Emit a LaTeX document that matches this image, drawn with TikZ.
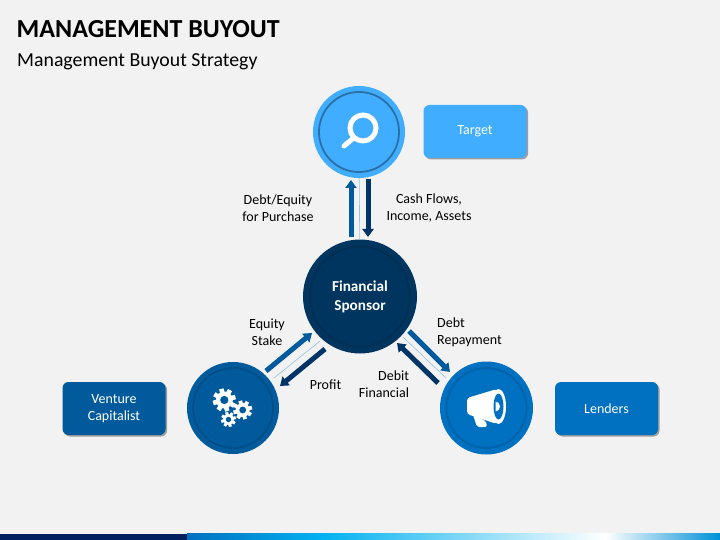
\documentclass[tikz,border=0pt]{standalone}
\usepackage{fontspec}
\setmainfont{Carlito}
\usetikzlibrary{arrows.meta,shadows}

\definecolor{pagegray}{HTML}{F2F2F2}
\definecolor{skyblue}{HTML}{41ADFF}
\definecolor{midblue}{HTML}{0070C0}
\definecolor{deepblue}{HTML}{005A9C}
\definecolor{navyblue}{HTML}{00355F}
\definecolor{arrowdark}{HTML}{003366}
\definecolor{thinblue}{HTML}{8FC3E8}
\definecolor{footnavy}{HTML}{002060}
\definecolor{footcyan}{HTML}{00B0F0}
\definecolor{footend}{HTML}{0090D8}

\tikzset{
  hub/.style={circle,inner sep=0pt,text=white,align=center,font=\fontsize{15.2}{19}\selectfont\bfseries},
  tagbox/.style={rounded corners=6pt,minimum width=103pt,minimum height=53pt,inner sep=0pt,
    text=white,align=center,font=\fontsize{14}{17}\selectfont,
    drop shadow={shadow xshift=1.5pt,shadow yshift=-1.5pt,fill=black,opacity=.35}},
  lbl/.style={align=center,inner sep=0pt,font=\fontsize{14}{17}\selectfont},
  flow/.style={line width=5pt,-{Triangle[width=11pt,length=8pt]}},
  divider/.style={line width=.6pt,thinblue},
  ring/.style={line width=1.8pt}
}

% one gear: centre, radius, colour of the hole
\newcommand{\gearicon}[4]{
  \fill[white] (#1,#2) circle (#3*.74);
  \foreach \a in {0,45,...,315}
    \fill[white,rotate around={\a+15:(#1,#2)}] (#1-#3*.2,#2-#3) rectangle (#1+#3*.2,#2-#3*.6);
  \fill[#4] (#1,#2) circle (#3*.36);
}

\begin{document}
\begin{tikzpicture}[x=1pt,y=-1pt]
\useasboundingbox (0,0) rectangle (720,540);
\fill[pagegray] (0,0) rectangle (720,540);

% footer band
\fill[white] (187,532.5) rectangle (400,533.5);
\fill[footnavy] (0,533.5) rectangle (187,540);
\shade[left color=midblue,right color=footcyan] (187,533.5) rectangle (320,540);
\shade[left color=footcyan,right color=white] (320,533.5) rectangle (605,540);
\shade[left color=white,right color=footend] (605,533.5) rectangle (720,540);

% heading
\node[anchor=base west,inner sep=0pt,font=\fontsize{26}{30}\selectfont\bfseries] (title) at (16.5,37.5) {MANAGEMENT BUYOUT};
\node[anchor=base west,inner sep=0pt,font=\fontsize{19.8}{24}\selectfont] (subtitle) at (17,66.5) {Management Buyout Strategy};

% circles
\node[hub,fill=skyblue,minimum size=92pt] (target) at (359,132) {};
\node[hub,fill=navyblue,minimum size=114pt] (sponsor) at (360,296.5) {Financial\\Sponsor};
\node[hub,fill=deepblue,minimum size=92pt] (capital) at (233,408) {};
\node[hub,fill=midblue,minimum size=93pt] (lender) at (486.5,408) {};
\draw[ring,black!35!skyblue] (target.center) circle (40);
\draw[ring,black!12!navyblue] (sponsor.center) circle (50);
\draw[ring,black!12!deepblue] (capital.center) circle (40);
\draw[ring,black!12!midblue] (lender.center) circle (40);

% boxes
\node[tagbox,fill=skyblue,text height=10pt,text depth=3pt] (targetbox) at (475,131.5) {Target};
\node[tagbox,fill=deepblue] (capitalbox) at (114,408.5) {Venture\\Capitalist};
\node[tagbox,fill=midblue] (lenderbox) at (606.5,408.5) {Lenders};

% arrow ends
\coordinate (upA) at (351,237);
\coordinate (upB) at (351,180);
\coordinate (downA) at (368,179);
\coordinate (downB) at (368,237);
\coordinate (eqA) at (266,371);
\coordinate (eqB) at (312,333);
\coordinate (prA) at (325,349);
\coordinate (prB) at (280,386);
\coordinate (reA) at (409,331);
\coordinate (reB) at (450,372);
\coordinate (deA) at (438,383);
\coordinate (deB) at (397,343);
\coordinate (thinA) at (274,378);
\coordinate (thinB) at (320,341);
\coordinate (thinC) at (403,337);
\coordinate (thinD) at (446,378);

\draw[divider] (target) -- (sponsor);
\draw[divider] (thinA) -- (thinB);
\draw[divider] (thinC) -- (thinD);
\draw[flow,deepblue] (upA) -- (upB);
\draw[flow,arrowdark] (downA) -- (downB);
\draw[flow,deepblue] (eqA) -- (eqB);
\draw[flow,arrowdark] (prA) -- (prB);
\draw[flow,deepblue] (reA) -- (reB);
\draw[flow,arrowdark] (deA) -- (deB);

% labels
\node[lbl] (lblpurchase) at (278,208.5) {Debt/Equity\\for Purchase};
\node[lbl] (lblcash) at (429,208.5) {Cash Flows,\\Income, Assets};
\node[lbl] (lblequity) at (267,332) {Equity\\Stake};
\node[lbl] (lblprofit) at (325.5,384.5) {Profit};
\node[lbl,align=left] (lblrepay) at (469.5,332) {Debt\\Repayment};
\node[lbl,align=right] (lbldebit) at (384,384.5) {Debit\\Financial};

% magnifier
\draw[white,line width=5pt,line cap=round] (353,138.5) -- (344,146);
\draw[white,line width=5pt] (363,128) circle (13);

% gears
\gearicon{224.3}{400}{11.5}{deepblue}
\gearicon{242.7}{410}{9.5}{deepblue}
\gearicon{228.5}{419.5}{7.5}{deepblue}

% megaphone
\fill[white,rounded corners=2pt] (473,415) -- (486,421) -- (487,427) -- (477,427) -- cycle;
\fill[white,rounded corners=3pt] (467,398) -- (497,389) -- (497,424) -- (467,414) -- cycle;
\fill[white] (498.5,406.5) ellipse (7.5 and 17.5);
\fill[midblue] (498.5,406.5) ellipse (5 and 13);
\fill[white] (495.5,401.5) arc (-90:90:4.5 and 5) -- cycle;
\end{tikzpicture}
\end{document}
